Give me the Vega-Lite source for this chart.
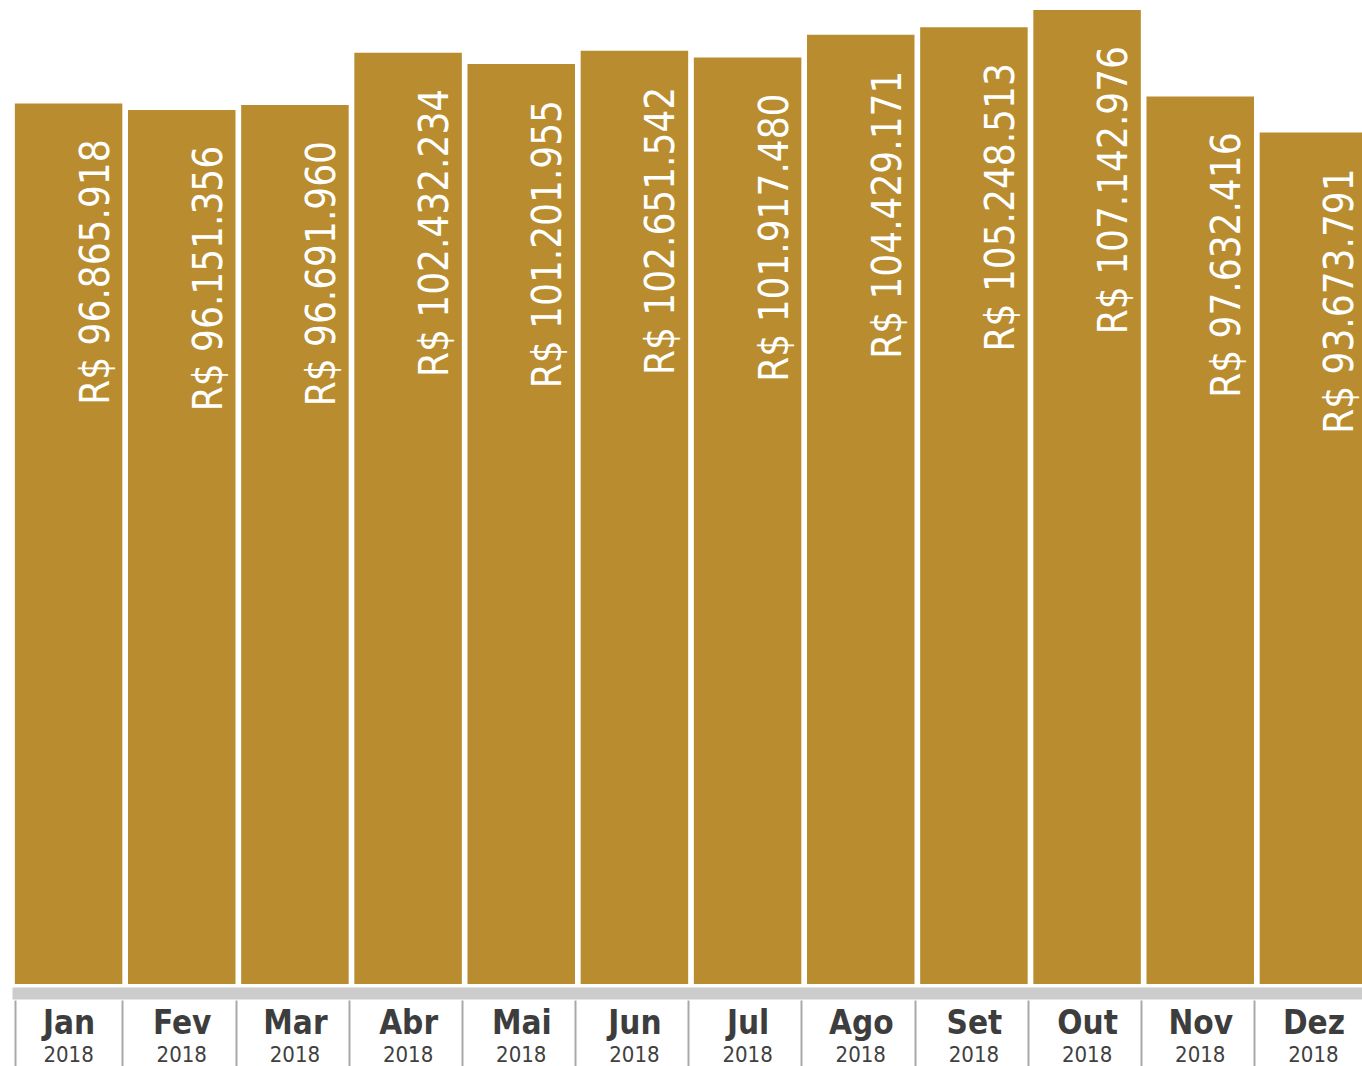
{
  "$schema": "https://vega.github.io/schema/vega-lite/v6.json",
  "width": 1350,
  "height": 984,
  "autosize": {"type": "none"},
  "padding": {"left": 12, "top": 0, "right": 0, "bottom": 82},
  "background": "white",
  "config": {"view": {"stroke": null}, "axis": {"grid": false}},
  "data": {
    "values": [
      {"mes": "Jan", "periodo": "Jan 2018", "valor": 96865918, "rotulo": "R$ 96.865.918"},
      {"mes": "Fev", "periodo": "Fev 2018", "valor": 96151356, "rotulo": "R$ 96.151.356"},
      {"mes": "Mar", "periodo": "Mar 2018", "valor": 96691960, "rotulo": "R$ 96.691.960"},
      {"mes": "Abr", "periodo": "Abr 2018", "valor": 102432234, "rotulo": "R$ 102.432.234"},
      {"mes": "Mai", "periodo": "Mai 2018", "valor": 101201955, "rotulo": "R$ 101.201.955"},
      {"mes": "Jun", "periodo": "Jun 2018", "valor": 102651542, "rotulo": "R$ 102.651.542"},
      {"mes": "Jul", "periodo": "Jul 2018", "valor": 101917480, "rotulo": "R$ 101.917.480"},
      {"mes": "Ago", "periodo": "Ago 2018", "valor": 104429171, "rotulo": "R$ 104.429.171"},
      {"mes": "Set", "periodo": "Set 2018", "valor": 105248513, "rotulo": "R$ 105.248.513"},
      {"mes": "Out", "periodo": "Out 2018", "valor": 107142976, "rotulo": "R$ 107.142.976"},
      {"mes": "Nov", "periodo": "Nov 2018", "valor": 97632416, "rotulo": "R$ 97.632.416"},
      {"mes": "Dez", "periodo": "Dez 2018", "valor": 93673791, "rotulo": "R$ 93.673.791"}
    ]
  },
  "layer": [
    {
      "mark": {"type": "bar", "color": "#B98D2F"},
      "encoding": {
        "x": {
          "field": "periodo", "type": "nominal", "sort": null,
          "scale": {"paddingInner": 0.05, "paddingOuter": 0.025, "range": [0, 1358]},
          "axis": {
            "orient": "bottom", "title": null, "domain": false,
            "ticks": true, "tickBand": "extent", "tickSize": 66, "tickWidth": 2, "tickColor": "#a9a9a9",
            "offset": 16, "labelAngle": 0,
            "labelExpr": "split(datum.label, ' ')[0]",
            "labelFont": "DejaVu Sans Condensed", "labelFontWeight": "bold", "labelFontSize": 33,
            "labelColor": "#3d3d3d", "labelBaseline": "alphabetic", "labelPadding": -33
          }
        },
        "y": {
          "field": "valor", "type": "quantitative",
          "scale": {"domain": [0, 108243000], "nice": false},
          "axis": null
        }
      }
    },
    {
      "mark": {
        "type": "text", "angle": 270, "align": "right", "baseline": "alphabetic",
        "dx": -36, "dy": 40, "font": "DejaVu Sans Condensed", "fontSize": 40, "color": "white"
      },
      "encoding": {
        "x": {
          "field": "periodo", "type": "nominal", "sort": null,
          "axis": {
            "orient": "bottom", "title": null, "domain": true, "domainColor": "#cccccc", "domainWidth": 12,
            "offset": 9, "ticks": false, "labelAngle": 0,
            "labelExpr": "split(datum.label, ' ')[1]",
            "labelFont": "DejaVu Sans Condensed", "labelFontSize": 22,
            "labelColor": "#404040", "labelBaseline": "alphabetic", "labelPadding": 68
          }
        },
        "y": {"field": "valor", "type": "quantitative", "axis": null},
        "text": {"field": "rotulo"}
      }
    }
  ],
  "resolve": {"axis": {"x": "independent"}}
}
